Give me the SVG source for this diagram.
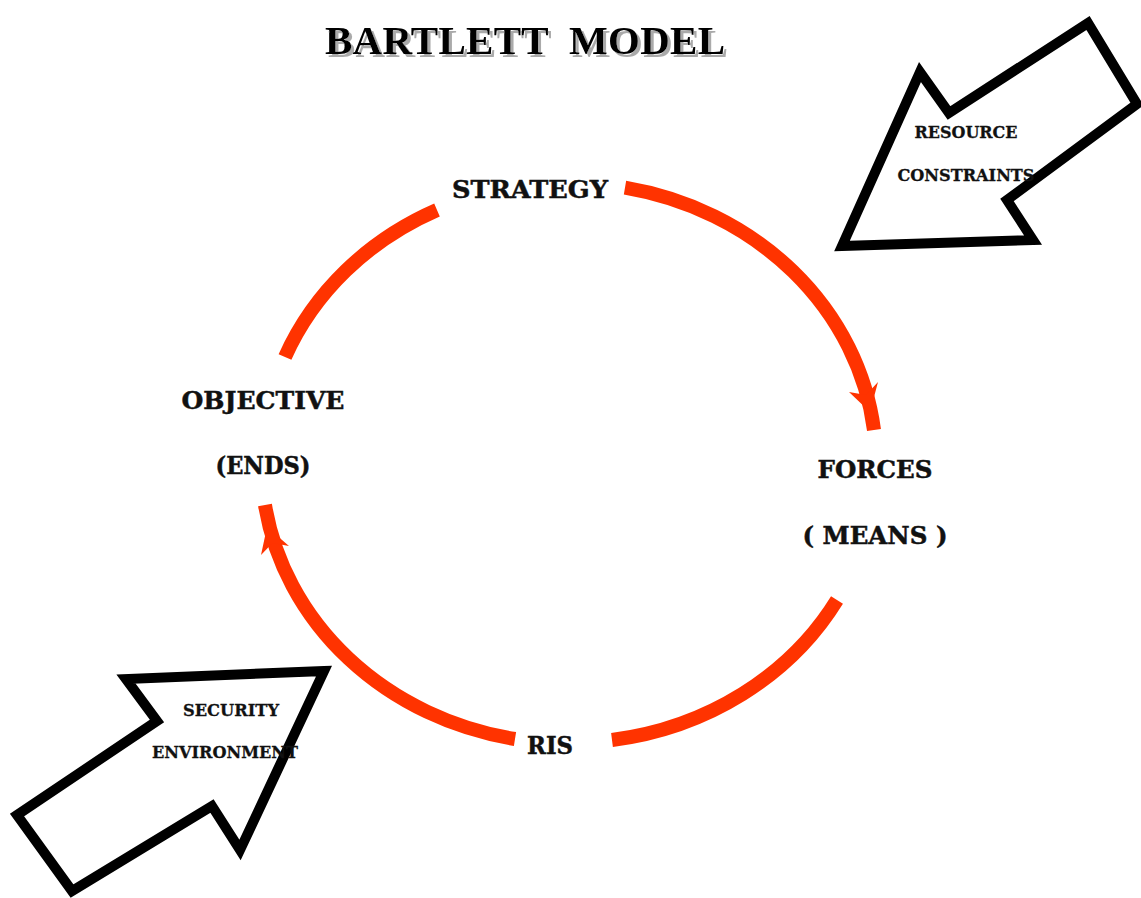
<svg xmlns="http://www.w3.org/2000/svg" width="1141" height="898" viewBox="0 0 1141 898">
<style>
.lbl{font-family:"DejaVu Serif","Liberation Serif",serif;font-weight:bold;fill:#111;stroke:#111;stroke-width:0.5;text-anchor:middle}
.big{font-size:25px}
.small{font-size:17px;stroke-width:0.3}
.arc{fill:none;stroke:#FF3300;stroke-width:14}
.head{fill:#FF3300}
.bigarrow{fill:#fff;stroke:#000;stroke-width:10;stroke-linejoin:miter;stroke-miterlimit:10}
.title{font-family:"Liberation Serif","Times New Roman",serif;font-weight:bold;font-size:41px;text-anchor:middle}
</style>
<defs>
<filter id="shadow" x="-10%" y="-30%" width="120%" height="160%">
<feOffset in="SourceAlpha" dx="3" dy="3" result="off"/>
<feFlood flood-color="#aaa"/>
<feComposite in2="off" operator="in" result="sh"/>
<feMerge><feMergeNode in="sh"/><feMergeNode in="SourceGraphic"/></feMerge>
</filter>
</defs>
<rect width="1141" height="898" fill="#fff"/>
<g id="title">
<text class="title" x="525" y="54" fill="#000" filter="url(#shadow)" xml:space="preserve" textLength="400">BARTLETT  MODEL</text>
</g>
<g id="connectors">
<path class="arc" d="M 625 187.7 A 307 280 0 0 1 874 430"/>
<polygon class="head" points="849,392 870,412 878,382 866,395"/>
<path class="arc" d="M 837 600 A 307 280 0 0 1 612 740"/>
<path class="arc" d="M 515 739 A 307 280 0 0 1 265 505"/>
<polygon class="head" points="261,555 267,527 289,546 272.5,543"/>
<path class="arc" d="M 285 357 A 307 280 0 0 1 437 210"/>
</g>
<g id="strategy"><text class="lbl big" x="530" y="198" textLength="156" lengthAdjust="spacingAndGlyphs">STRATEGY</text></g>
<g id="objective">
<text class="lbl big" x="263" y="409" textLength="163" lengthAdjust="spacingAndGlyphs">OBJECTIVE</text>
<text class="lbl big" x="263" y="474" textLength="95" lengthAdjust="spacingAndGlyphs">(ENDS)</text>
</g>
<g id="forces">
<text class="lbl big" x="875" y="478" textLength="115" lengthAdjust="spacingAndGlyphs">FORCES</text>
<text class="lbl big" x="875" y="544" textLength="145" lengthAdjust="spacingAndGlyphs" xml:space="preserve">( MEANS )</text>
</g>
<g id="ris"><text class="lbl big" x="550" y="754" textLength="46" lengthAdjust="spacingAndGlyphs">RIS</text></g>
<g id="resource-constraints">
<polygon class="bigarrow" points="842,246 920,72 949,113 1088,23 1137,104 1007,200 1033,240"/>
<text class="lbl small" x="966" y="138" textLength="103" lengthAdjust="spacingAndGlyphs">RESOURCE</text>
<text class="lbl small" x="966" y="181" textLength="137" lengthAdjust="spacingAndGlyphs">CONSTRAINTS</text>
</g>
<g id="security-environment">
<polygon class="bigarrow" points="324,671 126,679 157,721 17,815 72,891 212,806 240,850"/>
<text class="lbl small" x="231" y="716" textLength="96" lengthAdjust="spacingAndGlyphs">SECURITY</text>
<text class="lbl small" x="225" y="758" textLength="146" lengthAdjust="spacingAndGlyphs">ENVIRONMENT</text>
</g>
</svg>
